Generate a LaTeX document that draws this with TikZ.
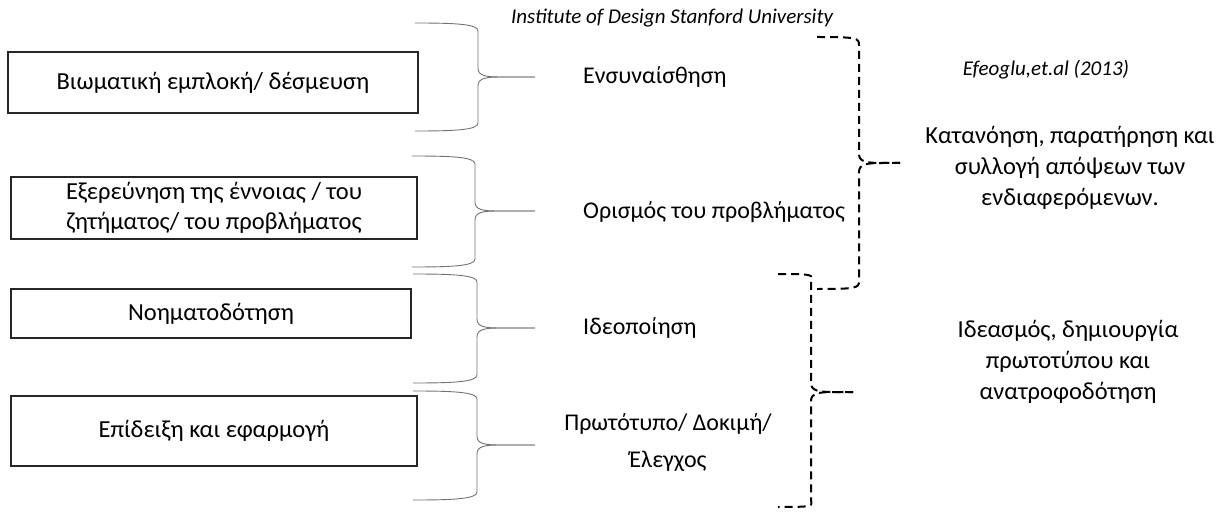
\documentclass[tikz,border=0pt]{standalone}
\usepackage{fontspec}
\setmainfont{Carlito}
\usetikzlibrary{positioning}

% style, left x, top y, middle y, bottom y, spine x, tip x
\newcommand{\wordbrace}[7]{%
  \draw[#1] (#2,#3) .. controls ({#2+40},#3) and (#6,{#3+1}) .. (#6,{#3+8})
    -- (#6,{#4-9}) .. controls (#6,{#4-1}) and ({#6+8},#4) .. ({#6+24},#4) -- (#7,#4);
  \draw[#1] (#7,#4) -- ({#6+24},#4) .. controls ({#6+8},#4) and (#6,{#4+1}) .. (#6,{#4+9})
    -- (#6,{#5-8}) .. controls (#6,{#5-1}) and ({#2+40},#5) .. (#2,#5);}

\begin{document}
\begin{tikzpicture}[x=1pt,y=-1pt,
  stagebox/.style={draw=black!85,line width=1.2pt,inner sep=0pt,align=center,font=\fontsize{24.5}{30}\selectfont},
  phase/.style={inner sep=0pt,font=\fontsize{24}{37}\selectfont},
  note/.style={inner sep=0pt,align=center,font=\fontsize{24.5}{31}\selectfont},
  source/.style={inner sep=0pt,font=\fontsize{21}{24}\selectfont\itshape},
  thinbrace/.style={draw=black!55,line width=0.9pt},
  dashbrace/.style={draw=black,line width=2pt,dash pattern=on 8pt off 5pt}]
\useasboundingbox (0,0) rectangle (1222,513);

% left column
\node (engage) [stagebox,minimum width=410pt,minimum height=61pt] at (213,82.5) {Βιωματική εμπλοκή/ δέσμευση};
\node (explore) [stagebox,minimum width=406pt,minimum height=62pt] at (214,208) {Εξερεύνηση της έννοιας / του\\ζητήματος/ του προβλήματος};
\node (sense) [stagebox,minimum width=400pt,minimum height=49pt] at (211,313.5) {Νοηματοδότηση};
\node (apply) [stagebox,minimum width=406pt,minimum height=70pt] at (214,431) {Επίδειξη και εφαρμογή};

% d.school phases
\node (title) [source] at (672,18) {Institute of Design Stanford University};
\node (empath) [phase,anchor=west] at (583,77) {Ενσυναίσθηση};
\node (define) [phase,anchor=west] at (583,212) {Ορισμός του προβλήματος};
\node (ideate) [phase,anchor=west] at (583,328) {Ιδεοποίηση};
\node (proto) [phase,align=center] at (668,443) {Πρωτότυπο/ Δοκιμή/\\Έλεγχος};

% Efeoglu stages
\node (efe) [source] at (1046,70) {Efeoglu,et.al (2013)};
\node (underst) [note] at (1070,168) {Κατανόηση, παρατήρηση και\\συλλογή απόψεων των\\ενδιαφερόμενων.};
\node (idea) [note] at (1068,362) {Ιδεασμός, δημιουργία\\πρωτοτύπου και\\ανατροφοδότηση};

% braces
\wordbrace{thinbrace}{415}{23}{77}{131}{478}{535}
\wordbrace{thinbrace}{412}{156}{211}{267}{475}{535}
\wordbrace{thinbrace}{413}{274}{328}{383}{477}{535}
\wordbrace{thinbrace}{413}{391}{445}{500}{477}{535}
\wordbrace{dashbrace}{817}{37}{163}{289}{859}{900}
\wordbrace{dashbrace}{778}{274}{392}{507}{811}{853}
\end{tikzpicture}
\end{document}
